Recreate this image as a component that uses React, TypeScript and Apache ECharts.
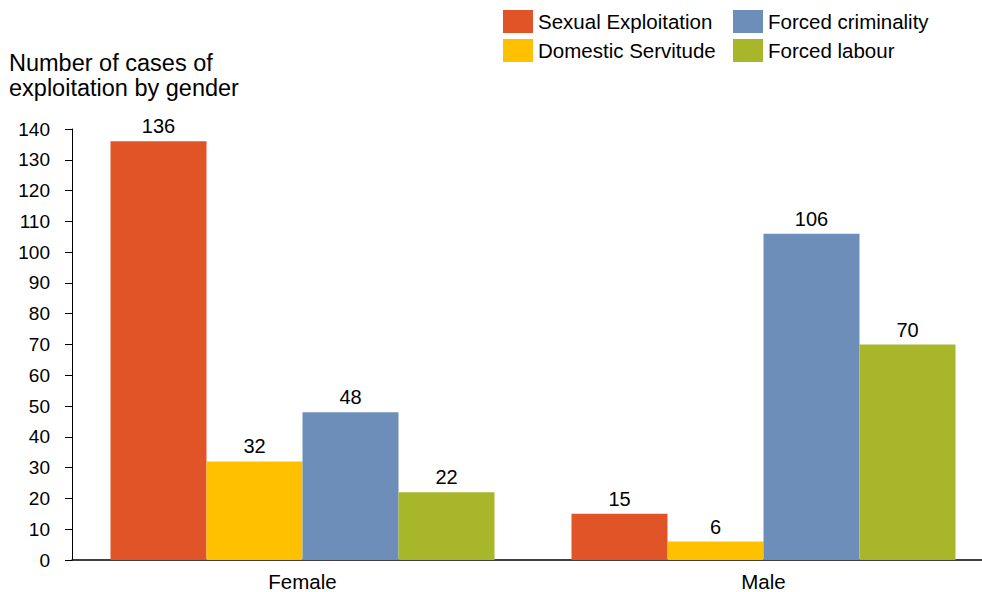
import React, { useEffect, useRef } from "react";
import * as echarts from "echarts";

const categories = ["Female", "Male"];
const sexualExploitation = [136, 15];
const domesticServitude = [32, 6];
const forcedCriminality = [48, 106];
const forcedLabour = [22, 70];

const FONT = "'Liberation Sans', Arial, sans-serif";

export default function App() {
  const ref = useRef<HTMLDivElement>(null);
  useEffect(() => {
    document.body.style.margin = "0";
    document.body.style.overflow = "hidden";
    const chart = echarts.init(ref.current!, null, { renderer: "svg" });
    const mk = (name: string, data: number[], color: string) => ({
      name,
      type: "bar",
      data,
      barWidth: 96,
      barGap: "0%",
      itemStyle: { color },
      label: {
        show: true,
        position: "top",
        distance: 5,
        color: "#000",
        fontSize: 20,
        fontFamily: FONT,
      },
    });
    const legendCommon = {
      orient: "vertical",
      top: 10,
      padding: 0,
      itemWidth: 30,
      itemHeight: 23,
      itemGap: 6,
      icon: "rect",
      selectedMode: false,
      textStyle: { fontFamily: FONT, fontSize: 20.5, color: "#000" },
    };
    chart.setOption({
      animation: false,
      textStyle: { fontFamily: FONT },
      title: {
        text: "Number of cases of\nexploitation by gender",
        left: 9,
        top: 50,
        padding: 0,
        textStyle: {
          fontFamily: FONT,
          fontSize: 23.5,
          lineHeight: 25,
          fontWeight: "normal",
          color: "#000",
        },
      },
      legend: [
        { ...legendCommon, data: ["Sexual Exploitation", "Domestic Servitude"], left: 503 },
        { ...legendCommon, data: ["Forced criminality", "Forced labour"], left: 733 },
      ],
      grid: { left: 72, top: 129, width: 922, height: 431.5 },
      xAxis: {
        type: "category",
        data: categories,
        axisLine: { show: true, lineStyle: { color: "#000", width: 1.5 } },
        axisTick: { show: false },
        axisLabel: { color: "#000", fontSize: 20.5, margin: 11, fontFamily: FONT },
      },
      yAxis: {
        type: "value",
        min: 0,
        max: 140,
        interval: 10,
        axisLine: { show: true, lineStyle: { color: "#000", width: 1 } },
        axisTick: { show: true, length: 7, lineStyle: { color: "#000" } },
        splitLine: { show: false },
        axisLabel: { color: "#000", fontSize: 19, margin: 22, fontFamily: FONT },
      },
      series: [
        mk("Sexual Exploitation", sexualExploitation, "#E05427"),
        mk("Domestic Servitude", domesticServitude, "#FFC000"),
        mk("Forced criminality", forcedCriminality, "#6E8EBA"),
        mk("Forced labour", forcedLabour, "#A8B72A"),
      ],
    });
    return () => chart.dispose();
  }, []);
  return <div ref={ref} style={{ width: 1000, height: 592 }} />;
}
